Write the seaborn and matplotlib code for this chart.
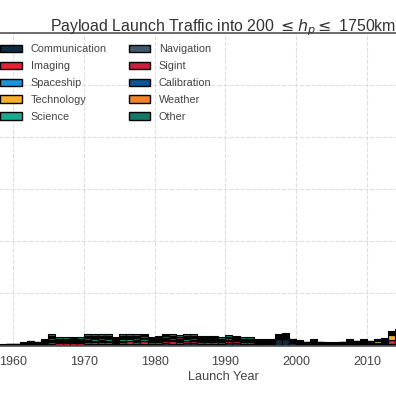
import numpy as np
import pandas as pd
import matplotlib
matplotlib.use("Agg")
import matplotlib.pyplot as plt
from matplotlib.patches import Patch
import seaborn as sns

# Launch years shown in the panel
years = list(range(1957, 2015))

# Payloads per year and mission type
communication = [0, 0, 1, 2, 3, 4, 4, 6, 10, 8, 8, 9, 8, 12, 14, 14, 15, 12, 16, 17,
                 16, 18, 15, 17, 20, 19, 19, 21, 20, 18, 19, 18, 16, 21, 21, 17, 18, 15,
                 16, 17, 60, 62, 25, 18, 12, 16, 10, 8, 8, 10, 14, 11, 13, 10, 14, 14, 10, 10]
imaging = [0, 0, 1, 2, 4, 8, 6, 12, 20, 15, 15, 17, 15, 20, 22, 21, 22, 16, 22, 22,
           20, 22, 16, 18, 22, 20, 19, 21, 20, 18, 18, 17, 14, 19, 18, 14, 14, 11,
           10, 10, 12, 13, 10, 8, 6, 9, 6, 5, 5, 7, 11, 9, 11, 9, 13, 14, 45, 60]
spaceship = [0, 0, 0, 0, 1, 2, 1, 2, 3, 2, 2, 2, 2, 2, 2, 2, 2, 2, 2, 2,
             2, 2, 2, 2, 2, 2, 2, 2, 2, 2, 2, 2, 2, 2, 2, 2, 2, 2,
             2, 2, 2, 2, 2, 2, 1, 2, 1, 1, 1, 1, 1, 1, 1, 1, 1, 1, 2, 2]
technology = [0, 2, 2, 3, 4, 6, 5, 7, 10, 7, 7, 7, 6, 8, 8, 7, 7, 5, 7, 6,
              6, 6, 4, 4, 5, 5, 4, 4, 4, 4, 3, 3, 3, 4, 4, 3, 3, 3,
              3, 3, 4, 4, 4, 4, 4, 6, 5, 4, 4, 5, 8, 7, 9, 8, 11, 14, 45, 50]
science = [3, 5, 6, 5, 6, 8, 6, 10, 14, 10, 10, 11, 10, 13, 14, 13, 14, 10, 13, 13,
           12, 13, 9, 10, 12, 11, 10, 11, 11, 10, 10, 9, 8, 10, 9, 8, 8, 6,
           6, 5, 7, 8, 6, 5, 4, 6, 4, 3, 3, 4, 6, 5, 6, 5, 6, 6, 10, 12]
navigation = [0, 0, 0, 2, 3, 5, 4, 7, 12, 9, 9, 10, 9, 13, 14, 13, 14, 10, 14, 14,
              13, 14, 10, 12, 14, 13, 12, 13, 13, 12, 12, 11, 9, 12, 11, 9, 9, 7,
              6, 6, 8, 8, 5, 4, 3, 4, 3, 2, 2, 3, 4, 3, 4, 3, 5, 5, 6, 7]
sigint = [0, 0, 0, 1, 2, 4, 3, 6, 10, 7, 7, 8, 7, 10, 11, 11, 12, 9, 12, 12,
          11, 12, 9, 10, 12, 11, 11, 12, 11, 10, 10, 10, 8, 10, 10, 8, 7, 6,
          5, 5, 6, 6, 4, 3, 2, 3, 2, 1, 1, 2, 3, 3, 3, 3, 4, 4, 5, 6]
calibration = [0, 0, 1, 1, 1, 2, 2, 3, 5, 4, 4, 4, 4, 5, 5, 5, 5, 4, 5, 5,
               4, 5, 4, 4, 5, 4, 4, 5, 4, 4, 4, 4, 3, 4, 4, 3, 3, 3,
               2, 2, 3, 3, 2, 2, 1, 2, 1, 1, 1, 1, 2, 2, 2, 2, 2, 2, 2, 3]
weather = [0, 0, 1, 1, 1, 2, 2, 3, 4, 3, 3, 4, 3, 4, 5, 5, 5, 4, 5, 5,
           4, 5, 4, 4, 5, 4, 4, 4, 4, 4, 4, 4, 3, 4, 4, 3, 3, 2,
           2, 2, 3, 3, 2, 2, 1, 2, 1, 1, 1, 1, 2, 2, 2, 2, 3, 3, 4, 4]
other = [2, 3, 2, 2, 4, 7, 5, 11, 18, 12, 12, 14, 13, 19, 20, 19, 19, 14, 19, 19,
         18, 18, 13, 15, 18, 17, 16, 17, 17, 14, 14, 13, 11, 15, 13, 10, 10, 7,
         6, 6, 10, 11, 7, 5, 4, 8, 5, 3, 3, 4, 7, 5, 7, 5, 8, 9, 10, 9]

categories = ["Communication", "Imaging", "Spaceship", "Technology", "Science",
              "Navigation", "Sigint", "Calibration", "Weather", "Other"]
colors = ["#0d2b3e", "#e5213a", "#1a94d8", "#f7b02a", "#1aab8f",
          "#3e5b6e", "#c8203e", "#0e5596", "#f08229", "#137a68"]

series = [communication, imaging, spaceship, technology, science,
          navigation, sigint, calibration, weather, other]
rows = []
for cat, vals in zip(categories, series):
    for yr, v in zip(years, vals):
        rows.append((yr, cat, v))
df = pd.DataFrame(rows, columns=["year", "category", "count"])

sns.set_style("whitegrid", {"grid.linestyle": "--", "grid.color": "#dedede"})
plt.rcParams["font.family"] = ["Liberation Sans", "DejaVu Sans"]

fig = plt.figure(figsize=(3.96, 3.96), dpi=100)
# the panel is a crop of a wider axes, so it runs past both figure edges
ax = fig.add_axes([-0.0207, 0.1275, 1.1697, 0.789])

palette = dict(zip(categories, colors))
sns.histplot(data=df, x="year", weights="count", hue="category",
             hue_order=categories[::-1], palette=palette, multiple="stack",
             binwidth=1, binrange=(1957, 2015), edgecolor="black", linewidth=0.8,
             alpha=1, legend=False, ax=ax)

ax.set_xlim(1957, 2022.45)
ax.set_ylim(0, 3000)
ax.set_xticks(range(1960, 2020, 10))
ax.set_yticks(range(0, 3001, 500))
ax.tick_params(axis="y", labelleft=False)
ax.tick_params(axis="x", labelsize=9, colors="#444444", pad=4)
ax.set_xlabel("Launch Year", fontsize=9.2, color="#444444", labelpad=2.5)
ax.set_ylabel("")
ax.set_title(r"Payload Launch Traffic into 200 $\leq h_p \leq$ 1750km",
             fontsize=11.4, color="#333333", pad=1.5)
for s in ax.spines.values():
    s.set_color("#555555")
    s.set_linewidth(1.2)

handles = [Patch(facecolor=c, edgecolor="black", label=l) for l, c in zip(categories, colors)]
ax.legend(handles=handles, loc="upper left", bbox_to_anchor=(-0.006, 1), ncol=2,
          frameon=False, fontsize=7.8, labelspacing=0.63, borderaxespad=0.65,
          labelcolor="#444444")

fig.savefig("out.png", dpi=100)
